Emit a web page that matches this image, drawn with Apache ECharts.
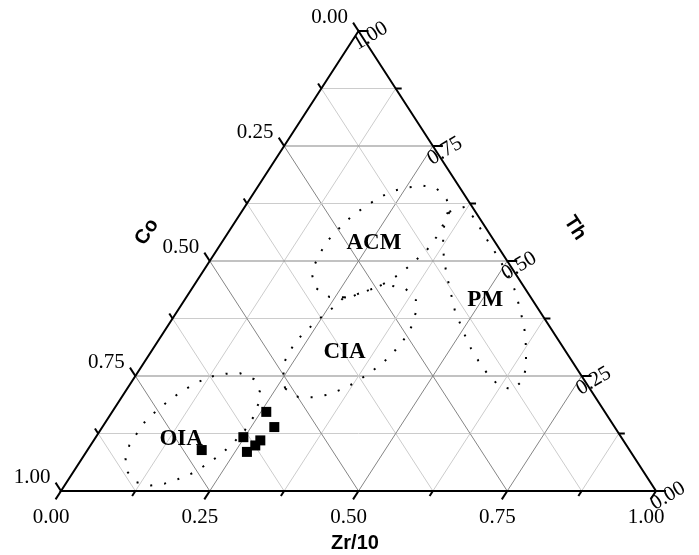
<!DOCTYPE html>
<html><head><meta charset="utf-8">
<script src="https://cdn.jsdelivr.net/npm/echarts@6/dist/echarts.min.js"></script>
<style>html,body{margin:0;padding:0;background:#fff}#c{width:699px;height:555px}</style>
</head><body><div id="c"></div>
<script>
// ternary axes: Zr/10 (bottom, left→right), Co (left, top→bottom), Th (right, bottom→top)
const tickValues = [0, 0.125, 0.25, 0.375, 0.5, 0.625, 0.75, 0.875, 1];
const labelValues = [0, 0.25, 0.5, 0.75, 1];
const tickLabels = ['0.00', '0.25', '0.50', '0.75', '1.00'];
const axisTitles = ['Zr/10', 'Co', 'Th'];

// samples: [Zr/10, Th] (Co = 1 - Zr/10 - Th)
const sampleZr = [0.192, 0.248, 0.259, 0.289, 0.280, 0.277, 0.270];
const sampleTh = [0.089, 0.117, 0.172, 0.139, 0.110, 0.099, 0.085];

// field boundaries, [Zr/10, Th]
const oiaField = [[0.129,0.249],[0.150,0.255],[0.173,0.256],[0.203,0.243],[0.227,0.215],[0.237,0.189],[0.243,0.160],[0.243,0.133],[0.238,0.107],[0.229,0.080],[0.216,0.058],[0.202,0.039],[0.184,0.026],[0.166,0.016],[0.145,0.012],[0.117,0.019],[0.088,0.044],[0.073,0.071],[0.065,0.100],[0.065,0.119],[0.065,0.147],[0.073,0.174],[0.084,0.199],[0.097,0.220],[0.112,0.237],[0.129,0.249]];
const ciaField = [[0.265,0.223],[0.248,0.252],[0.236,0.276],[0.233,0.297],[0.232,0.326],[0.239,0.352],[0.249,0.379],[0.260,0.403],[0.265,0.421],[0.276,0.420],[0.284,0.428],[0.293,0.433],[0.303,0.439],[0.310,0.443],[0.319,0.453],[0.333,0.446],[0.359,0.440],[0.389,0.415],[0.402,0.389],[0.410,0.361],[0.412,0.334],[0.409,0.307],[0.402,0.279],[0.390,0.256],[0.376,0.235],[0.360,0.220],[0.342,0.209],[0.321,0.204],[0.297,0.204],[0.265,0.223]];
const acmField = [[0.265,0.421],[0.240,0.422],[0.208,0.441],[0.189,0.467],[0.180,0.494],[0.177,0.515],[0.176,0.544],[0.182,0.571],[0.190,0.598],[0.203,0.620],[0.217,0.639],[0.233,0.653],[0.254,0.660],[0.276,0.664],[0.302,0.658],[0.331,0.634],[0.349,0.612],[0.353,0.577],[0.355,0.552],[0.353,0.524],[0.344,0.497],[0.334,0.472],[0.319,0.453],[0.310,0.443],[0.303,0.439],[0.293,0.433],[0.284,0.428],[0.276,0.420],[0.265,0.421]];
const pmField = [[0.347,0.606],[0.353,0.583],[0.364,0.557],[0.377,0.530],[0.393,0.502],[0.410,0.475],[0.428,0.448],[0.447,0.420],[0.466,0.392],[0.488,0.365],[0.510,0.338],[0.534,0.310],[0.560,0.283],[0.587,0.257],[0.620,0.230],[0.649,0.220],[0.656,0.241],[0.647,0.269],[0.633,0.297],[0.619,0.324],[0.604,0.350],[0.589,0.373],[0.569,0.402],[0.551,0.428],[0.530,0.455],[0.480,0.509],[0.450,0.539],[0.398,0.593],[0.370,0.618],[0.347,0.606]];

const regionNames = ['OIA', 'CIA', 'ACM', 'PM'];
const regionZr = [0.146, 0.326, 0.256, 0.506];
const regionTh = [0.112, 0.301, 0.540, 0.414];

function tern(zr, th) { return [zr + th / 2, th]; }

const chart = echarts.init(document.getElementById('c'), null, {renderer: 'canvas'});
const serif = 'Liberation Serif, Times New Roman, serif';
const sans = 'Liberation Sans, Arial, sans-serif';

function frameRender(params, api) {
  const P = (zr, th) => api.coord(tern(zr, th));
  const ch = [];
  const seg = (a, b, stroke, w) => ch.push({type: 'line', shape: {x1: a[0], y1: a[1], x2: b[0], y2: b[1]}, style: {stroke: stroke, lineWidth: w}});
  tickValues.forEach(v => {
    if (v <= 0 || v >= 1) return;
    const major = Math.abs(v * 4 - Math.round(v * 4)) < 1e-9;
    const stroke = major ? '#858585' : '#cccccc';
    seg(P(0, v), P(1 - v, v), stroke, 1);
    seg(P(v, 0), P(v, 1 - v), stroke, 1);
    seg(P(1 - v, 0), P(0, 1 - v), stroke, 1);
  });
  const A = P(0, 0), B = P(1, 0), C = P(0, 1);
  ch.push({type: 'polygon', shape: {points: [A, B, C]}, style: {fill: null, stroke: '#000', lineWidth: 2}});
  const norm = (d) => { const l = Math.hypot(d[0], d[1]); return [d[0] / l, d[1] / l]; };
  const dBottom = norm([A[0] - C[0], A[1] - C[1]]);
  const dLeft = norm([C[0] - B[0], C[1] - B[1]]);
  const dRight = [1, 0];
  tickValues.forEach(v => {
    const major = Math.abs(v * 4 - Math.round(v * 4)) < 1e-9;
    const L = major ? 10 : 6;
    const pb = P(v, 0), pl = P(0, 1 - v), pr = P(1 - v, v);
    seg(pb, [pb[0] + dBottom[0] * L, pb[1] + dBottom[1] * L], '#000', 2);
    seg(pl, [pl[0] + dLeft[0] * L, pl[1] + dLeft[1] * L], '#000', 2);
    seg(pr, [pr[0] + dRight[0] * L, pr[1] + dRight[1] * L], '#000', 2);
  });
  labelValues.forEach((v, i) => {
    const pb = P(v, 0), pl = P(0, 1 - v), pr = P(1 - v, v);
    const font = '21px ' + serif;
    ch.push({type: 'text', x: pb[0] - 10, y: pb[1] + 26, style: {text: tickLabels[i], font: font, fill: '#000', align: 'center', verticalAlign: 'middle'}});
    ch.push({type: 'text', x: pl[0] - 29, y: pl[1] - 13.5, style: {text: tickLabels[i], font: font, fill: '#000', align: 'center', verticalAlign: 'middle'}});
    ch.push({type: 'text', x: pr[0] + 12, y: pr[1] + 5, rotation: 31 * Math.PI / 180, style: {text: tickLabels[i], font: font, fill: '#000', align: 'center', verticalAlign: 'middle'}});
  });
  regionNames.forEach((n, i) => {
    const p = P(regionZr[i], regionTh[i]);
    ch.push({type: 'text', x: p[0], y: p[1], style: {text: n, font: 'bold 23px ' + serif, fill: '#000', align: 'center', verticalAlign: 'middle'}});
  });
  return {type: 'group', children: ch};
}

const fieldLine = (data) => ({
  type: 'line', data: data.map(p => tern(p[0], p[1])), showSymbol: false, symbol: 'none', silent: true, z: 3,
  lineStyle: {color: '#000', width: 2, type: [2, 12], cap: 'butt', opacity: 1}
});

chart.setOption({
  animation: false,
  grid: {left: 61, right: 43, top: 31, bottom: 64},
  xAxis: {type: 'value', min: 0, max: 1, show: false},
  yAxis: {type: 'value', min: 0, max: 1, show: false},
  graphic: [
    {type: 'text', x: 355, y: 543, style: {text: axisTitles[0], font: 'bold 20px ' + sans, fill: '#000', align: 'center', verticalAlign: 'middle'}},
    {type: 'text', x: 147, y: 232, rotation: 57 * Math.PI / 180, style: {text: axisTitles[1], font: 'bold 20px ' + sans, fill: '#000', align: 'center', verticalAlign: 'middle'}},
    {type: 'text', x: 575, y: 228, rotation: -57 * Math.PI / 180, style: {text: axisTitles[2], font: 'bold 20px ' + sans, fill: '#000', align: 'center', verticalAlign: 'middle'}}
  ],
  series: [
    {type: 'custom', renderItem: frameRender, data: [[0, 0]], silent: true, z: 1, clip: false},
    fieldLine(oiaField), fieldLine(ciaField), fieldLine(acmField), fieldLine(pmField),
    {type: 'scatter', data: sampleZr.map((z, i) => tern(z, sampleTh[i])), symbol: 'rect', symbolSize: 10, itemStyle: {color: '#000', opacity: 1}, z: 5, silent: true}
  ]
});
</script></body></html>
